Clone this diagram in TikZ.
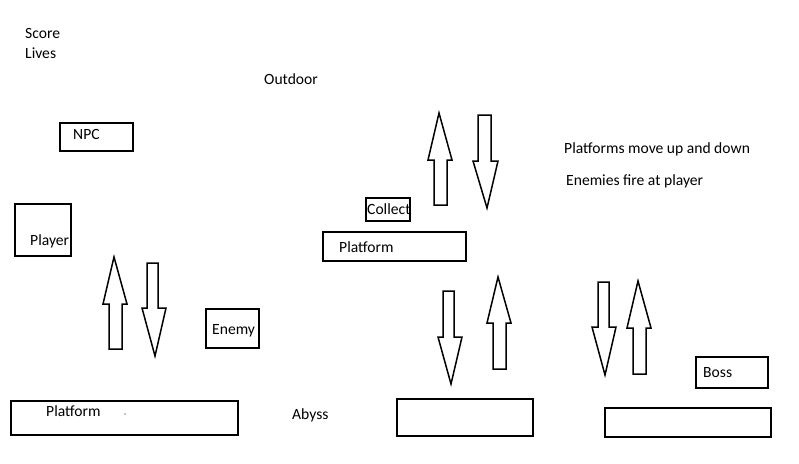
\documentclass[tikz,border=0pt]{standalone}
\usepackage{fontspec}
\setmainfont{Carlito}
\newcommand{\myblockarrow}[9]{%
  \draw[blockarrow] (#6,#8) -- (#7,#8) -- (#7,#3) -- (#5,#3) -- (#1,#2) -- (#4,#3) -- (#6,#3) -- cycle;}
\begin{document}
\begin{tikzpicture}[x=1pt,y=-1pt,
  box/.style={draw=black, line width=2pt, inner sep=0pt, rectangle},
  lbl/.style={anchor=base west, inner sep=0pt, font=\fontsize{15.6}{18}\selectfont},
  blockarrow/.style={draw=black, line width=1.5pt, fill=white, line join=miter}]
\useasboundingbox (0,0) rectangle (799,463);
\fill[white] (0,0) rectangle (799,463);
% texts
\node[lbl] (score) at (25,38) {Score};
\node[lbl] (lives) at (25,58) {Lives};
\node[lbl] (outdoor) at (264,84) {Outdoor};
\node[lbl] (pmove) at (564,153) {Platforms move up and down};
\node[lbl] (efire) at (566,185) {Enemies fire at player};
\node[lbl] (abyss) at (292,419) {Abyss};
% boxes
\node[box, minimum width=73pt, minimum height=28pt] (npc) at (96.5,137) {};
\node[lbl] (npct) at (73,139) {NPC};
\node[box, minimum width=56pt, minimum height=52pt] (player) at (43,230) {};
\node[lbl] (playert) at (30,245) {Player};
\node[box, minimum width=53pt, minimum height=39pt] (enemy) at (232.5,328.5) {};
\node[lbl] (enemyt) at (212,334) {Enemy};
\node[box, minimum width=227pt, minimum height=34pt] (plat1) at (124.5,418) {};
\node[lbl] (plat1t) at (46,416) {Platform};
\fill (125,414) circle (0.6);
\node[box, minimum width=44pt, minimum height=23pt] (collect) at (388,209.5) {};
\node[lbl] (collectt) at (367,214) {Collect};
\node[box, minimum width=143pt, minimum height=29pt] (plat2) at (394.5,246.5) {};
\node[lbl] (plat2t) at (339,252) {Platform};
\node[box, minimum width=72pt, minimum height=31pt] (boss) at (732,372.5) {};
\node[lbl] (bosst) at (703,377) {Boss};
\node[box, minimum width=136pt, minimum height=37pt] (plat3) at (465,417.5) {};
\node[box, minimum width=166pt, minimum height=29pt] (plat4) at (688,422.5) {};
% arrows: tipx tipy headbase headleft headright shaftleft shaftright end
\myblockarrow{114}{257}{304}{103}{127}{109}{122}{349}{}
\myblockarrow{155}{356}{308}{142}{166}{147}{158}{263}{}
\myblockarrow{439}{113}{160}{428}{452}{434}{447}{205}{}
\myblockarrow{487}{208}{161}{473}{498}{478}{491}{115}{}
\myblockarrow{451}{384}{337}{438}{462}{443}{454}{291}{}
\myblockarrow{498}{277}{323}{487}{511}{493}{506}{369}{}
\myblockarrow{605}{375}{327}{592}{616}{598}{609}{282}{}
\myblockarrow{638}{281}{328}{627}{651}{633}{646}{374}{}
\end{tikzpicture}
\end{document}
